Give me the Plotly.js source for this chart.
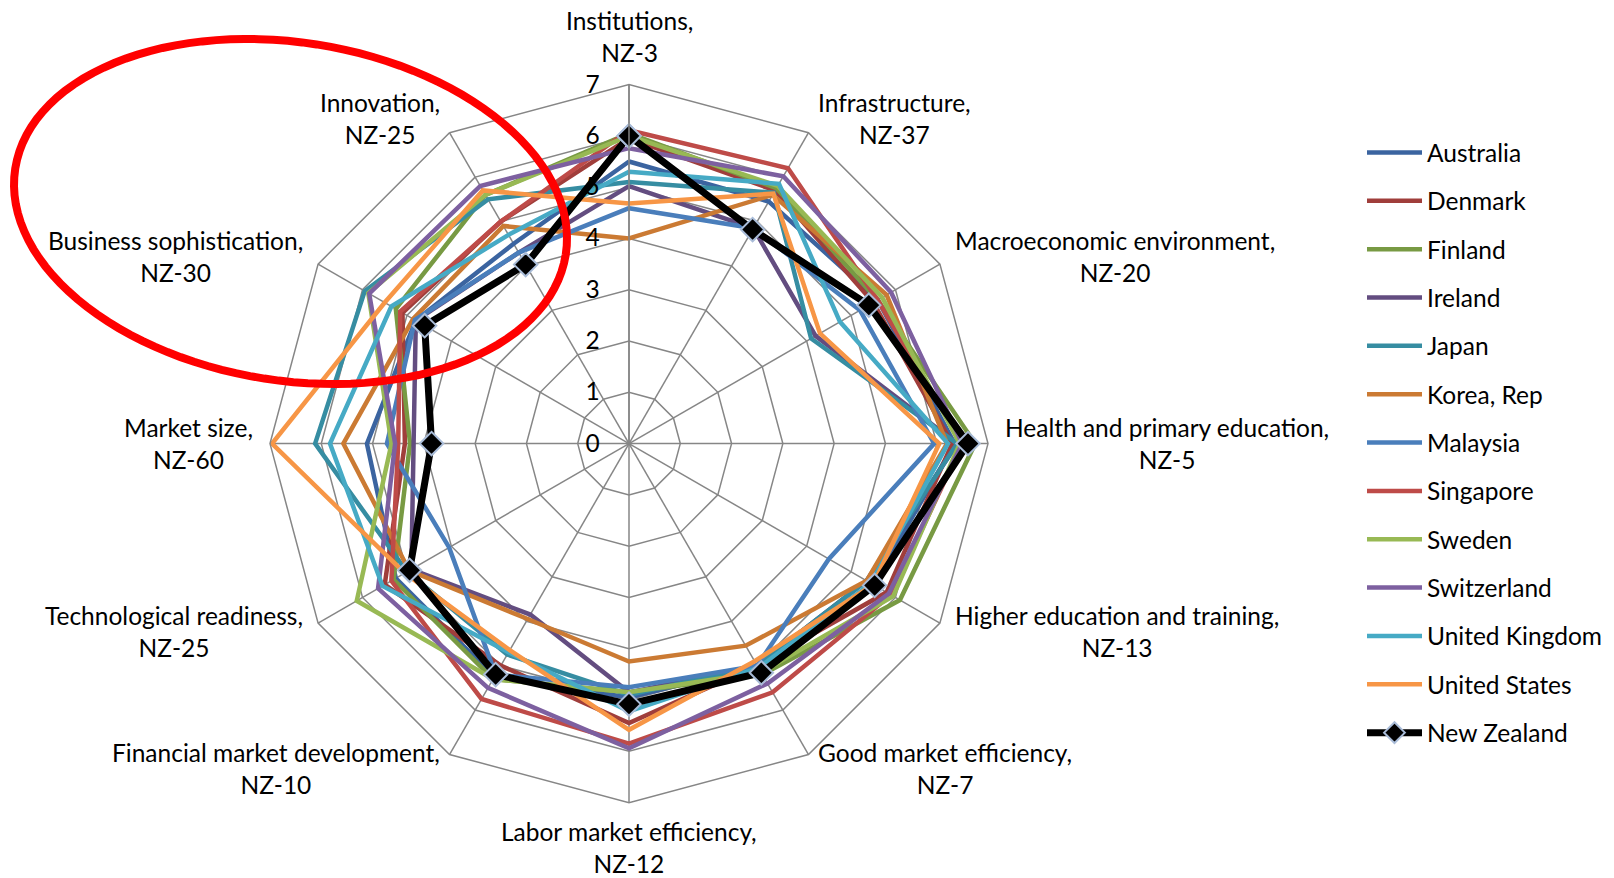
<!DOCTYPE html>
<html>
<head>
<meta charset="utf-8">
<script src="https://cdn.plot.ly/plotly-3.0.1.min.js"></script>
<style>html,body{margin:0;padding:0;background:#fff;}#chart{width:1614px;height:878px;}</style>
</head>
<body>
<div id="chart"></div>
<script>
// ---- data ----
const categories = ['Institutions','Infrastructure','Macroeconomic environment','Health and primary education','Higher education and training','Good market efficiency','Labor market efficiency','Financial market development','Technological readiness','Market size','Business sophistication','Innovation'];
const nzRanks = ['NZ-3','NZ-37','NZ-20','NZ-5','NZ-13','NZ-7','NZ-12','NZ-10','NZ-25','NZ-60','NZ-30','NZ-25'];
const radialTicks = [0,1,2,3,4,5,6,7];

const australia   = [5.50, 5.45, 5.60, 6.35, 5.50, 5.00, 4.95, 5.25, 5.25, 5.11, 4.80, 4.50];
const denmark     = [5.95, 5.70, 5.50, 6.30, 5.80, 5.00, 5.45, 5.00, 5.50, 4.37, 5.10, 5.00];
const finland     = [6.05, 5.75, 5.60, 6.75, 6.10, 5.20, 4.85, 5.30, 5.30, 4.27, 5.25, 5.60];
const ireland     = [5.02, 4.85, 4.20, 6.40, 5.35, 5.00, 4.85, 3.85, 4.90, 4.20, 4.80, 4.30];
const japan       = [5.10, 5.65, 4.10, 6.40, 5.35, 5.00, 4.90, 4.75, 5.00, 6.12, 5.95, 5.50];
const korea       = [4.00, 5.60, 5.80, 6.20, 5.35, 4.55, 4.25, 3.95, 4.95, 5.57, 4.86, 4.90];
const malaysia    = [4.59, 4.85, 5.20, 5.95, 4.50, 5.00, 4.75, 5.20, 4.05, 4.72, 4.82, 4.30];
const singapore   = [6.11, 6.20, 5.60, 6.50, 5.90, 5.60, 5.85, 5.75, 5.35, 4.50, 5.15, 5.00];
const sweden      = [6.00, 5.80, 5.70, 6.45, 5.95, 5.15, 4.85, 5.30, 6.13, 4.63, 5.87, 5.60];
const switzerland = [5.76, 6.02, 5.90, 6.50, 5.85, 5.40, 5.94, 5.50, 5.65, 4.56, 5.85, 5.80];
const unitedKingdom = [5.30, 5.85, 4.75, 6.22, 5.45, 5.05, 5.22, 4.70, 5.55, 5.83, 5.35, 4.70];
const unitedStates  = [4.68, 5.63, 4.30, 6.05, 5.50, 4.90, 5.58, 4.65, 5.05, 6.96, 5.50, 5.70];
const newZealand    = [6.00, 4.82, 5.40, 6.61, 5.53, 5.16, 5.08, 5.20, 4.94, 3.85, 4.60, 4.03];

const seriesNames = ['Australia','Denmark','Finland','Ireland','Japan','Korea, Rep','Malaysia','Singapore','Sweden','Switzerland','United Kingdom','United States','New Zealand'];
const seriesValues = [australia, denmark, finland, ireland, japan, korea, malaysia, singapore, sweden, switzerland, unitedKingdom, unitedStates, newZealand];
const seriesColors = ['#3B64A0','#A03E3B','#789A43','#634D80','#368DA2','#CB7A33','#4A7EBB','#BE4B48','#98B954','#7D60A0','#46AAC5','#F79646','#000000'];

// ---- geometry (page pixels) ----
const W = 1614, H = 878;
const CX = 629, CY = 443.6, R = 359;
const FONT = 'Lato, "Open Sans", sans-serif';
const FS = 24.5;
const px = x => x / W, py = y => 1 - y / H;

const close = a => a.concat([a[0]]);
const traces = seriesNames.map((name, i) => {
  const isNZ = name === 'New Zealand';
  const tr = {
    type: 'scatterpolar',
    name: name,
    r: close(seriesValues[i]),
    theta: close(categories),
    mode: isNZ ? 'lines+markers' : 'lines',
    line: {color: seriesColors[i], width: isNZ ? 7 : 4.5},
    legendgroup: 'g' + i
  };
  if (isNZ) tr.marker = {symbol: 'diamond', size: 18, color: '#000', line: {color: '#A9BCD8', width: 2}};
  return tr;
});

// category labels around the web
const annotations = categories.map((c, i) => {
  const t = i * Math.PI / 6;
  const s = Math.sin(t), co = Math.cos(t);
  const vx = CX + R * s, vy = CY - R * co;
  let a = {xref: 'paper', yref: 'paper', showarrow: false, align: 'center',
           text: c + ',<br>' + nzRanks[i], font: {family: FONT, size: FS, color: '#000'}};
  if (Math.abs(s) < 0.01) {
    a.x = px(vx); a.xanchor = 'center';
    if (co > 0) { a.y = py(vy - 16); a.yanchor = 'bottom'; }
    else { a.y = py(vy + 12); a.yanchor = 'top'; }
  } else {
    a.x = px(vx + Math.sign(s) * 15 * Math.abs(s));
    a.xanchor = s > 0 ? 'left' : 'right';
    a.y = py(vy - 16 * co); a.yanchor = 'middle';
  }
  return a;
});

// red ellipse highlight
const eC = [290.5, 211.5], eA = 278.6, eB = 169.1, ePhi = 8.87 * Math.PI / 180;
let path = '';
for (let k = 0; k <= 120; k++) {
  const t = 2 * Math.PI * k / 120;
  const x = eC[0] + eA * Math.cos(t) * Math.cos(ePhi) - eB * Math.sin(t) * Math.sin(ePhi);
  const y = eC[1] + eA * Math.cos(t) * Math.sin(ePhi) + eB * Math.sin(t) * Math.cos(ePhi);
  path += (k === 0 ? 'M' : 'L') + px(x).toFixed(5) + ',' + py(y).toFixed(5);
}
path += 'Z';

const layout = {
  width: W, height: H,
  margin: {l: 0, r: 0, t: 0, b: 0},
  paper_bgcolor: '#fff',
  font: {family: FONT, size: FS, color: '#000'},
  showlegend: true,
  legend: {
    x: px(1362), y: py(130), xanchor: 'left', yanchor: 'top',
    font: {family: FONT, size: FS, color: '#000'},
    traceorder: 'grouped', tracegroupgap: 13.5, itemwidth: 55,
    bgcolor: 'rgba(0,0,0,0)'
  },
  polar: {
    domain: {x: [px(CX - R), px(CX + R)], y: [py(CY + R), py(CY - R)]},
    gridshape: 'linear',
    bgcolor: '#fff',
    radialaxis: {
      range: [0, 7], tickvals: radialTicks, ticktext: radialTicks.map(String),
      angle: 90, side: 'counterclockwise', tickangle: 90,
      showline: true, linecolor: '#868686', linewidth: 1.5,
      gridcolor: '#868686', gridwidth: 1.5,
      ticks: 'outside', ticklen: 20, tickcolor: 'rgba(0,0,0,0)',
      tickfont: {family: FONT, size: FS, color: '#000'}
    },
    angularaxis: {
      type: 'category', categoryarray: categories, categoryorder: 'array',
      direction: 'clockwise', rotation: 90,
      showline: true, linecolor: '#868686', linewidth: 1.5,
      gridcolor: '#868686', gridwidth: 1.5,
      showticklabels: false, ticks: ''
    }
  },
  annotations: annotations,
  shapes: [{type: 'path', xref: 'paper', yref: 'paper', path: path, line: {color: '#FF0000', width: 8}, layer: 'above'}]
};

Plotly.newPlot('chart', traces, layout, {displayModeBar: false, staticPlot: true});
</script>
</body>
</html>
